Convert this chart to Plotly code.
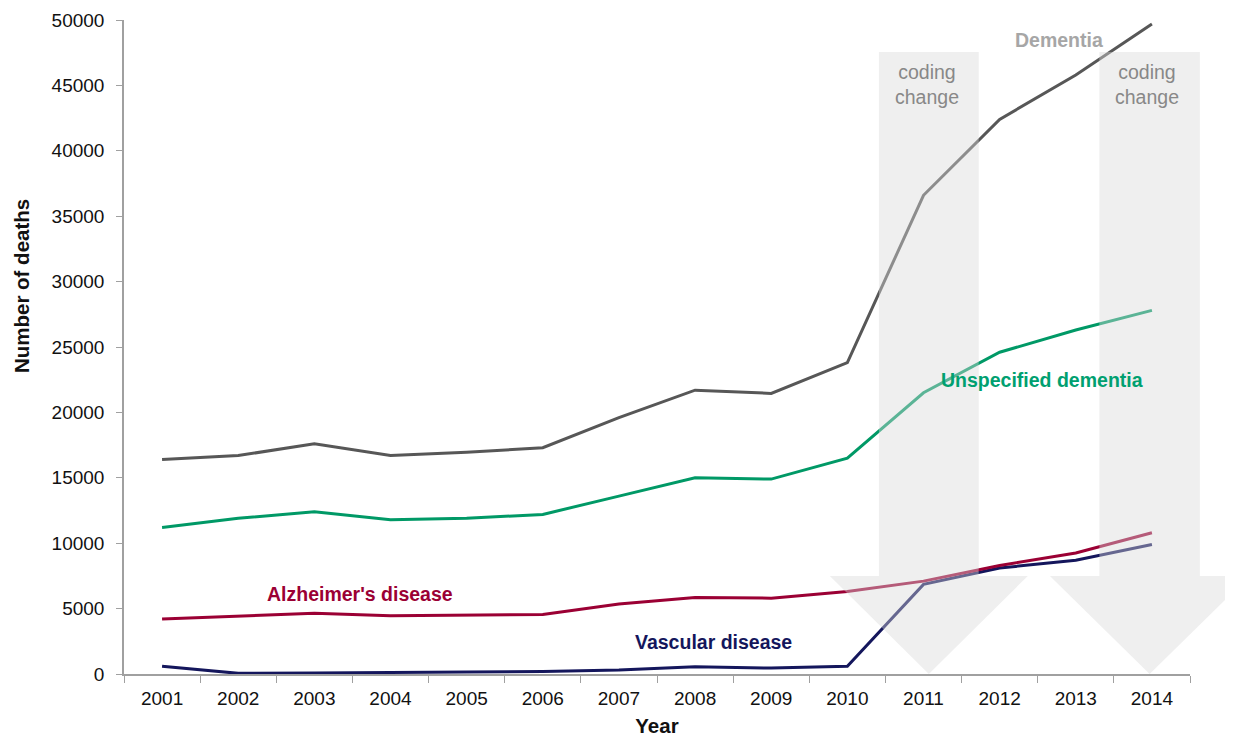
import plotly.graph_objects as go

years = [str(y) for y in range(2001, 2015)]
dementia = [16400, 16700, 17600, 16700, 16950, 17300, 19600, 21700, 21450, 23800, 36600, 42400, 45800, 49700]
unspecified = [11200, 11900, 12400, 11800, 11900, 12200, 13600, 15000, 14900, 16500, 21500, 24600, 26300, 27800]
alzheimers = [4200, 4400, 4650, 4450, 4500, 4550, 5350, 5850, 5800, 6300, 7100, 8300, 9250, 10800]
vascular = [600, 50, 80, 100, 150, 200, 300, 550, 450, 600, 6850, 8100, 8700, 9900]
yticks = list(range(0, 50001, 5000))

YMAX = 50000
N = len(years)

fig = go.Figure()
series = [
    ("Vascular disease", vascular, "#14165C"),
    ("Alzheimer's disease", alzheimers, "#9B0034"),
    ("Unspecified dementia", unspecified, "#009966"),
    ("Dementia", dementia, "#575757"),
]
for name, vals, col in series:
    fig.add_trace(go.Scatter(x=years, y=vals, mode="lines", name=name,
                             line=dict(color=col, width=3), showlegend=False))

def px(i):
    return (i + 0.5) / N

def py(v):
    return v / YMAX

def arrow(cx, half_shaft, half_head, top, head_top):
    pts = [(cx - half_shaft, top), (cx + half_shaft, top), (cx + half_shaft, head_top),
           (cx + half_head, head_top), (cx, 0), (cx - half_head, head_top),
           (cx - half_shaft, head_top)]
    d = "M " + " L ".join(f"{px(x):.5f},{py(y):.5f}" for x, y in pts) + " Z"
    return dict(type="path", path=d, xref="paper", yref="paper",
                fillcolor="rgba(218,218,218,0.42)", line=dict(width=0), layer="above")

fig.update_layout(shapes=[
    arrow(10.07, 0.655, 1.30, 47550, 7500),
    arrow(12.97, 0.66, 1.31, 47550, 7500),
])

font = "Liberation Sans, Arial, sans-serif"
AS = 19.5
ann = [
    dict(x=px(10.04), y=py(45100), text="coding<br>change", font=dict(size=AS, color="#888888")),
    dict(x=px(12.94), y=py(45100), text="coding<br>change", font=dict(size=AS, color="#888888")),
    dict(x=px(11.78), y=py(48500), text="<b>Dementia</b>", font=dict(size=AS, color="#A6A6A6")),
    dict(x=px(11.55), y=py(22500), text="<b>Unspecified dementia</b>", font=dict(size=AS, color="#00A070")),
    dict(x=px(2.60), y=py(6150), text="<b>Alzheimer's disease</b>", font=dict(size=AS, color="#9B0034")),
    dict(x=px(7.24), y=py(2450), text="<b>Vascular disease</b>", font=dict(size=AS, color="#14165C")),
    dict(x=-0.0966, y=py(29660), text="<b>Number of deaths</b>", textangle=-90,
         font=dict(size=20.5, color="#111111")),
]
for a in ann:
    a.update(xref="paper", yref="paper", showarrow=False, xanchor="center", yanchor="middle")
fig.update_layout(annotations=ann)

fig.update_layout(
    width=1225, height=729,
    margin=dict(l=116, r=43, t=12, b=63),
    plot_bgcolor="white", paper_bgcolor="white",
    font=dict(family=font, size=19, color="#111111"),
    xaxis=dict(type="category", range=[-0.5, N - 0.5], tickson="boundaries",
               ticks="outside", ticklen=7, tickcolor="#A0A0A0", showline=True,
               linecolor="#A0A0A0", linewidth=1.5, showgrid=False, zeroline=False,
               automargin=False, ticklabelstandoff=6,
               title=dict(text="<b>Year</b>", font=dict(size=20.5), standoff=21),
               tickfont=dict(size=19)),
    yaxis=dict(range=[0, YMAX], tickvals=yticks, tickformat="d", ticks="outside", ticklen=6,
               tickcolor="#A0A0A0", showline=True, linecolor="#A0A0A0", linewidth=1.5,
               showgrid=False, zeroline=False, ticklabelstandoff=8, automargin=False,
               tickfont=dict(size=19)),
)

fig.write_html("out.html")
